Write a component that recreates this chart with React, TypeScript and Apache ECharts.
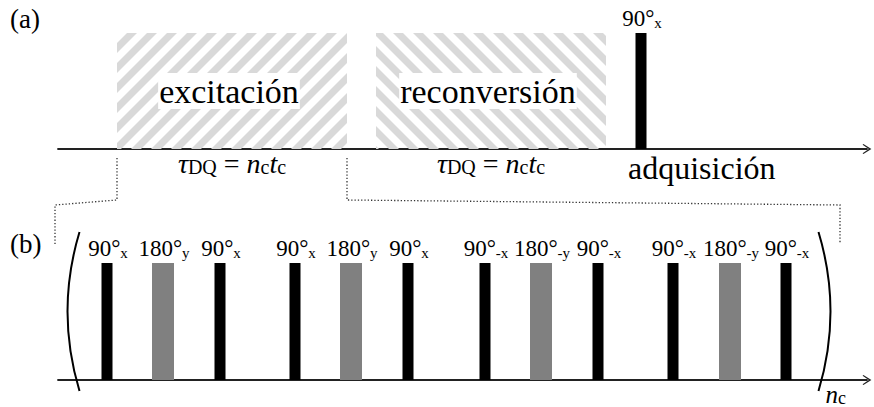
import React, { useEffect, useRef } from "react";
import * as echarts from "echarts";

// ---------------- data ----------------
const panelLabels = ["(a)", "(b)"];

// (a) blocks of the DQ experiment (time units along the sequence)
const blockNames = ["excitación", "reconversión"];
const blockStart = [59, 318];
const blockEnd = [289, 548];

// (a) detection pulse
const detectTimes = [583];
const detectDurations = [11];
const detectAngles = ["90"];
const detectPhases = ["x"];
const detectLabel = "adquisición";

// (b) one cycle of the pulse block (repeated n_c times)
const cycleTimes = [49, 105, 162, 237, 293, 350, 427, 483, 540, 615, 672, 728];
const cycleDurations = [11, 22, 11, 11, 22, 11, 11, 22, 11, 11, 22, 11];
const cycleAngles = ["90", "180", "90", "90", "180", "90", "90", "180", "90", "90", "180", "90"];
const cyclePhases = ["x", "y", "x", "x", "y", "x", "-x", "-y", "-x", "-x", "-y", "-x"];

// zoom bracket: from excitación edges down to panel (b)
const bracketFrom = [59, 289];
const bracketTo = [-3, 782];

// repetition parentheses of panel (b)
const parenTimes = [21.5, 760.5];
const parenSide = [-1, 1];

const X_MAX = 809;

const FONT = "Liberation Serif";

function clipHalf(poly: number[][], g: (p: number[]) => number) {
  const out: number[][] = [];
  for (let k = 0; k < poly.length; k++) {
    const A = poly[k];
    const B = poly[(k + 1) % poly.length];
    const ga = g(A);
    const gb = g(B);
    if (ga >= 0) out.push(A);
    if ((ga >= 0) !== (gb >= 0)) {
      const t = ga / (ga - gb);
      out.push([A[0] + t * (B[0] - A[0]), A[1] + t * (B[1] - A[1])]);
    }
  }
  return out;
}

function formulaRich(size: number) {
  const sub = Math.round(size * 0.7);
  return {
    i: { fontFamily: FONT, fontSize: size, fontStyle: "italic", color: "#000", lineHeight: size },
    r: { fontFamily: FONT, fontSize: size, color: "#000", lineHeight: size },
    s: { fontFamily: FONT, fontSize: sub, color: "#000", lineHeight: sub - 2, verticalAlign: "bottom" },
  };
}

const pulseRich = {
  n: { fontFamily: FONT, fontSize: 23, color: "#000", lineHeight: 24 },
  s: { fontFamily: FONT, fontSize: 15, color: "#000", lineHeight: 15, verticalAlign: "bottom" },
};

function pulseRenderer(angles: string[], phases: string[], below?: string) {
  return (params: any, api: any) => {
    const idx = params.dataIndex;
    const t = api.value(0);
    const d = api.value(1);
    const a = api.coord([t - d / 2, 1]);
    const b = api.coord([t + d / 2, 0]);
    const cx = (a[0] + b[0]) / 2;
    const top = a[1];
    const angle = angles[idx];
    const phase = phases[idx];
    const children: any[] = [
      {
        type: "rect",
        shape: { x: a[0], y: a[1], width: b[0] - a[0], height: b[1] - a[1] },
        style: { fill: angle === "180" ? "#808080" : "#000" },
      },
      {
        type: "text",
        x: cx + 1,
        y: top - 2.5,
        style: {
          text: `{n|${angle}°}{s|${phase}}`,
          rich: pulseRich,
          fontFamily: FONT,
          align: "center",
          verticalAlign: "bottom",
        },
      },
    ];
    if (below) {
      children.push({
        type: "text",
        x: cx - 13,
        y: b[1] + 19,
        style: { text: below, fontFamily: FONT, fontSize: 32, align: "left", verticalAlign: "middle", fill: "#000" },
      });
    }
    return { type: "group", children };
  };
}

const ARROW = "path://M0,0 L5,8 L4.2,8.8 L0,2.6 L-4.2,8.8 L-5,8 Z";

function xAxisFor(gridIndex: number) {
  return {
    type: "value",
    gridIndex,
    min: 0,
    max: X_MAX,
    position: "bottom",
    axisLine: {
      show: true,
      onZero: false,
      symbol: ["none", ARROW],
      symbolSize: [10, 10],
      lineStyle: { color: "#222", width: 1.8 },
    },
    axisTick: { show: false },
    axisLabel: { show: false },
    splitLine: { show: false },
  };
}

function yAxisFor(gridIndex: number) {
  return { type: "value", gridIndex, min: 0, max: 1, show: false };
}

const CSS = `#chart-box svg text, #chart-box svg tspan { font-family: 'Liberation Serif', serif !important; }`;

export default function App() {
  const ref = useRef<HTMLDivElement>(null);

  useEffect(() => {
    document.body.style.margin = "0";
    if (!ref.current) return;
    const chart = echarts.init(ref.current, undefined, { renderer: "svg" });

    const option: any = {
      animation: false,
      textStyle: { fontFamily: FONT },
      grid: [
        { left: 58, right: 7, top: 33, height: 116 },
        { left: 58, right: 7, top: 263, height: 117 },
      ],
      xAxis: [xAxisFor(0), xAxisFor(1)],
      yAxis: [yAxisFor(0), yAxisFor(1)],
      graphic: [
        {
          type: "text",
          left: 10,
          top: 5,
          style: { text: panelLabels[0], fontFamily: FONT, fontSize: 27, fill: "#000" },
        },
        {
          type: "text",
          left: 10,
          top: 230,
          style: { text: panelLabels[1], fontFamily: FONT, fontSize: 27, fill: "#000" },
        },
      ],
      series: [
        {
          type: "custom",
          name: "blocks",
          xAxisIndex: 0,
          yAxisIndex: 0,
          clip: false,
          data: blockStart.map((s, i) => [s, blockEnd[i]]),
          renderItem: (params: any, api: any) => {
            const i = params.dataIndex;
            const p0 = api.coord([api.value(0), 1]);
            const p1 = api.coord([api.value(1), 0]);
            const x0 = p0[0], y0 = p0[1], x1 = p1[0], y1 = p1[1];
            const rect = [[x0, y0], [x1, y0], [x1, y1], [x0, y1]];
            const dir = i % 2 === 0 ? 1 : -1;
            const fx = (p: number[]) => p[0] + dir * p[1];
            const vals = rect.map(fx);
            const fmin = Math.min(...vals);
            const fmax = Math.max(...vals);
            const P = 20;
            const S = 10;
            const children: any[] = [];
            for (let c = Math.floor(fmin / P) * P - P; c < fmax + P; c += P) {
              let poly = clipHalf(rect, (p) => fx(p) - c);
              poly = clipHalf(poly, (p) => c + S - fx(p));
              if (poly.length >= 3) {
                children.push({ type: "polygon", shape: { points: poly }, style: { fill: "#d9d9d9" } });
              }
            }
            const cx = (x0 + x1) / 2;
            children.push({
              type: "text",
              x: cx - 3,
              y: (y0 + y1) / 2,
              style: {
                text: blockNames[i],
                fontFamily: FONT,
                fontSize: 34,
                align: "center",
                verticalAlign: "middle",
                fill: "#000",
                backgroundColor: "#fff",
                padding: [1, 1, 1, 1],
              },
            });
            children.push({
              type: "text",
              x: cx,
              y: y1 + 14,
              style: {
                text: "{i|τ}{s|DQ}{r| = }{i|n}{s|c}{i|t}{s|c}",
                rich: formulaRich(28),
                fontFamily: FONT,
                align: "center",
                verticalAlign: "middle",
              },
            });
            return { type: "group", children };
          },
        },
        {
          type: "custom",
          name: "detection",
          xAxisIndex: 0,
          yAxisIndex: 0,
          clip: false,
          data: detectTimes.map((t, i) => [t, detectDurations[i]]),
          renderItem: pulseRenderer(detectAngles, detectPhases, detectLabel),
        },
        {
          type: "custom",
          name: "bracket",
          xAxisIndex: 0,
          yAxisIndex: 0,
          clip: false,
          data: bracketFrom.map((v, i) => [v, bracketTo[i]]),
          renderItem: (params: any, api: any) => {
            const e = api.coord([api.value(0), 0]);
            const t = api.coord([api.value(1), 0]);
            const ay = e[1];
            return {
              type: "polyline",
              shape: {
                points: [
                  [e[0], ay + 9],
                  [e[0], ay + 51],
                  [t[0], ay + 56],
                  [t[0], ay + 95],
                ],
              },
              style: { stroke: "#333", lineWidth: 1.3, lineDash: [1.3, 2], fill: null },
            };
          },
        },
        {
          type: "custom",
          name: "cycle",
          xAxisIndex: 1,
          yAxisIndex: 1,
          clip: false,
          data: cycleTimes.map((t, i) => [t, cycleDurations[i]]),
          renderItem: pulseRenderer(cycleAngles, cyclePhases),
        },
        {
          type: "custom",
          name: "parens",
          xAxisIndex: 1,
          yAxisIndex: 1,
          clip: false,
          data: parenTimes.map((t, i) => [t, parenSide[i]]),
          renderItem: (params: any, api: any) => {
            const side = api.value(1);
            const p = api.coord([api.value(0), 0]);
            const q = api.coord([api.value(0), 1]);
            const top = q[1] - 31;
            const bot = p[1] + 11;
            const children: any[] = [
              {
                type: "bezierCurve",
                shape: {
                  x1: p[0],
                  y1: top,
                  x2: p[0],
                  y2: bot,
                  cpx1: p[0] + side * 24,
                  cpy1: (top + bot) / 2,
                },
                style: { stroke: "#000", lineWidth: 2, fill: null },
              },
            ];
            if (side > 0) {
              children.push({
                type: "text",
                x: p[0] + 7,
                y: bot + 3,
                style: {
                  text: "{i|n}{s|c}",
                  rich: formulaRich(25),
                  fontFamily: FONT,
                  align: "left",
                  verticalAlign: "middle",
                },
              });
            }
            return { type: "group", children };
          },
        },
      ],
    };

    chart.setOption(option);
    return () => chart.dispose();
  }, []);

  return (
    <div id="chart-box" style={{ position: "fixed", left: 0, top: 0, width: 874, height: 407, background: "#fff" }}>
      <style>{CSS}</style>
      <div ref={ref} style={{ position: "absolute", left: 0, top: 0, width: 874, height: 407 }} />
    </div>
  );
}
